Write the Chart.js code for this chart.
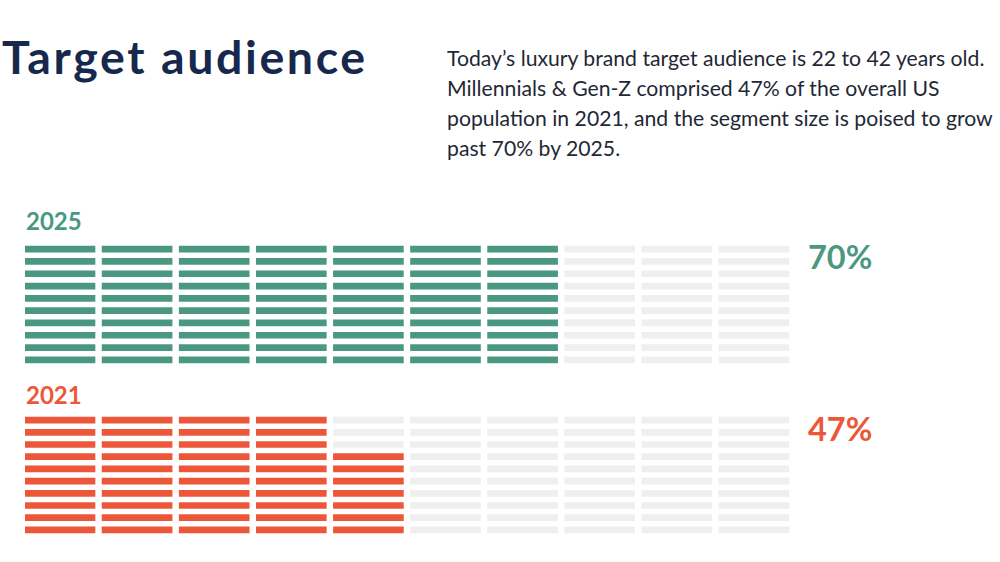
<!DOCTYPE html>
<html>
<head>
<meta charset="utf-8">
<script src="https://cdn.jsdelivr.net/npm/chart.js@4"></script>
<style>
  html, body { margin:0; padding:0; background:#ffffff; }
  body { width:1000px; height:562px; position:relative; overflow:hidden; font-family: Lato, "Open Sans", sans-serif; }
  .t { position:absolute; white-space:nowrap; line-height:1; }
  #title { left:2px; top:32.5px; font-size:46.5px; font-weight:700; color:#16294d; letter-spacing:2.6px; }
  #desc { left:447px; top:43.4px; font-size:21.2px; line-height:30px; color:#1f2836; }
  .year { font-size:24px; font-weight:700; }
  .pct { font-size:32.5px; font-weight:700; }
  .box { position:absolute; left:25px; width:771px; }
</style>
</head>
<body>
<div id="title" class="t">Target audience</div>
<div id="desc" class="t">Today’s luxury brand target audience is 22 to 42 years old.<br>Millennials &amp; Gen-Z comprised 47% of the overall US<br>population in 2021, and the segment size is poised to grow<br>past 70% by 2025.</div>

<div id="y0" class="t year" style="left:26px; top:208.7px;"></div>
<div id="p0" class="t pct" style="left:808px; top:241.2px;"></div>
<div class="box" style="top:243px; height:123px;"><canvas id="c0"></canvas></div>

<div id="y1" class="t year" style="left:26px; top:382.7px;"></div>
<div id="p1" class="t pct" style="left:808px; top:412.9px;"></div>
<div class="box" style="top:414px; height:122px;"><canvas id="c1"></canvas></div>

<script>
// ---- data ----
const years = ['2025', '2021'];
const shares = [70, 47];            // percent of 100 cells filled
const columns = [0, 1, 2, 3, 4, 5, 6, 7, 8, 9];
const rows = ['r1', 'r2', 'r3', 'r4', 'r5', 'r6', 'r7', 'r8', 'r9', 'r10'];
const shareLabels = ['70%', '47%'];

// ---- styles ----
const fillColors = ['#4b9882', '#ec573a'];
const emptyColor = '#efefef';
const segmentSpan = 70 / 77.1;   // bar length as a fraction of one column pitch

years.forEach((yr, k) => {
  const yEl = document.getElementById('y' + k);
  yEl.textContent = yr; yEl.style.color = fillColors[k];
  const pEl = document.getElementById('p' + k);
  pEl.textContent = shareLabels[k]; pEl.style.color = fillColors[k];

  const datasets = columns.map(c => ({
    data: rows.map(() => [c, c + segmentSpan]),
    backgroundColor: rows.map((_, r) => (c * rows.length + (rows.length - 1 - r) < shares[k]) ? fillColors[k] : emptyColor),
    borderWidth: 0,
    barThickness: 6,
    grouped: false
  }));

  new Chart(document.getElementById('c' + k), {
    type: 'bar',
    data: { labels: rows, datasets },
    options: {
      indexAxis: 'y',
      responsive: true,
      maintainAspectRatio: false,
      animation: false,
      layout: { padding: 0 },
      plugins: { legend: { display: false }, tooltip: { enabled: false } },
      scales: {
        x: { type: 'linear', min: 0, max: 10, display: false },
        y: { display: false }
      }
    }
  });
});
</script>
</body>
</html>
